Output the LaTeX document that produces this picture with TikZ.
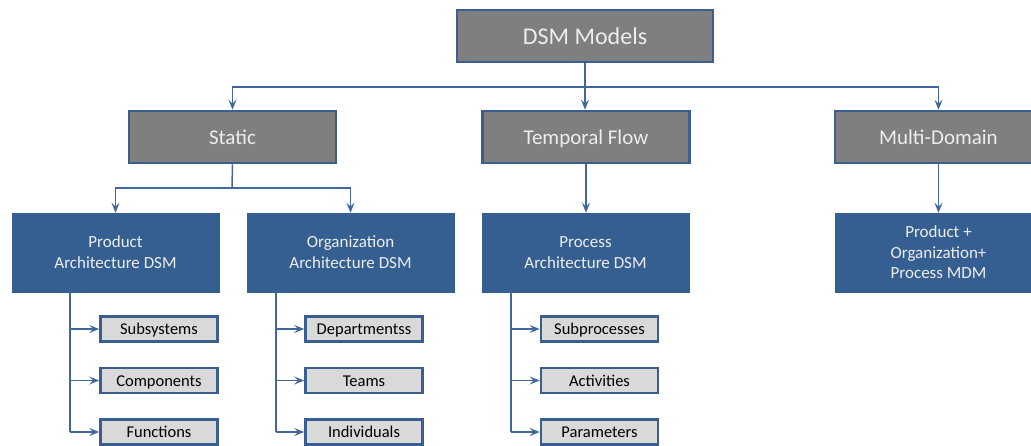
\documentclass[tikz,border=0pt]{standalone}
\usepackage{fontspec}
\setmainfont{Carlito}
\usetikzlibrary{arrows.meta}
\definecolor{bord}{HTML}{3A5F8F}
\definecolor{lne}{HTML}{41689C}
\definecolor{topfill}{HTML}{7F7F7F}
\definecolor{bluefill}{HTML}{365F91}
\definecolor{leaffill}{HTML}{D9D9D9}
\definecolor{txtw}{HTML}{EDEDED}
\tikzset{
  topbox/.style={draw=bord, line width=2.6pt, fill=topfill, minimum width=207pt, minimum height=52pt, text=txtw, font=\fontsize{21}{24}\selectfont, inner sep=0pt, text height=18pt, text depth=4pt},
  midbox/.style={draw=bluefill, line width=0.5pt, fill=bluefill, minimum width=207pt, minimum height=79pt, text=txtw, font=\fontsize{17}{21}\selectfont, align=center, inner sep=0pt},
  leafbox/.style={draw=bord, line width=2.6pt, fill=leaffill, minimum width=117pt, minimum height=25pt, text=black, font=\fontsize{16.5}{18}\selectfont, inner sep=0pt, text height=13pt, text depth=2pt},
  conn/.style={draw=lne, line width=1.5pt, -{Stealth[length=10pt,width=8pt,inset=4pt]}},
  plain/.style={draw=lne, line width=1.5pt},
}
\begin{document}
\begin{tikzpicture}[x=1pt,y=-1pt]
\useasboundingbox[fill=white] (0,0) rectangle (1031,445);
% top
\node[topbox, minimum width=256pt, font=\fontsize{24}{26}\selectfont, text height=20pt, text depth=4pt] (dsm) at (585,36) {DSM Models};
\node[topbox] (static) at (232.5,137) {Static};
\node[topbox] (temporal) at (586,137) {Temporal Flow};
\node[topbox] (multi) at (938.5,137) {Multi-Domain};
% mid
\node[midbox] (prod) at (115.5,252.5) {Product\\Architecture DSM};
\node[midbox] (org) at (350.5,252.5) {Organization\\Architecture DSM};
\node[midbox] (proc) at (585.5,252.5) {Process\\Architecture DSM};
\node[midbox, font=\fontsize{17}{20.5}\selectfont] (mdm) at (938.5,252.5) {Product +\\Organization+\\Process MDM};
% leaves
\node[leafbox] (sub) at (159,329) {Subsystems};
\node[leafbox] (comp) at (159,380.5) {Components};
\node[leafbox] (func) at (159,432) {Functions};
\node[leafbox] (dep) at (364,329) {Departmentss};
\node[leafbox] (team) at (364,380.5) {Teams};
\node[leafbox] (ind) at (364,432) {Individuals};
\node[leafbox] (subp) at (599.5,329) {Subprocesses};
\node[leafbox] (act) at (599.5,380.5) {Activities};
\node[leafbox] (par) at (599.5,432) {Parameters};
% connectors top
\coordinate (h1) at (585,87);
\draw[plain] (dsm.south) -- (h1);
\draw[conn] (h1) -| (static.north);
\draw[conn] (h1) -| (multi.north);
\draw[conn] (h1) -- (h1 |- temporal.north);
% static split
\coordinate (h2) at (232,188);
\draw[plain] (static.south) -- (h2);
\draw[conn] (h2) -| (prod.north);
\draw[conn] (h2) -| (org.north);
\draw[conn] (temporal.south) -- (temporal.south |- proc.north);
\draw[conn] (multi.south) -- (mdm.north);
% leaves connectors
\coordinate (v1) at (70,292);
\draw[plain] (v1) -- (70,432);
\draw[conn] (70,329) -- (sub.west);
\draw[conn] (70,380.5) -- (comp.west);
\draw[conn] (70,432) -- (func.west);
\coordinate (v2) at (276,292);
\draw[plain] (v2) -- (276,432);
\draw[conn] (276,329) -- (dep.west);
\draw[conn] (276,380.5) -- (team.west);
\draw[conn] (276,432) -- (ind.west);
\coordinate (v3) at (511,292);
\draw[plain] (v3) -- (511,432);
\draw[conn] (511,329) -- (subp.west);
\draw[conn] (511,380.5) -- (act.west);
\draw[conn] (511,432) -- (par.west);
\end{tikzpicture}
\end{document}
